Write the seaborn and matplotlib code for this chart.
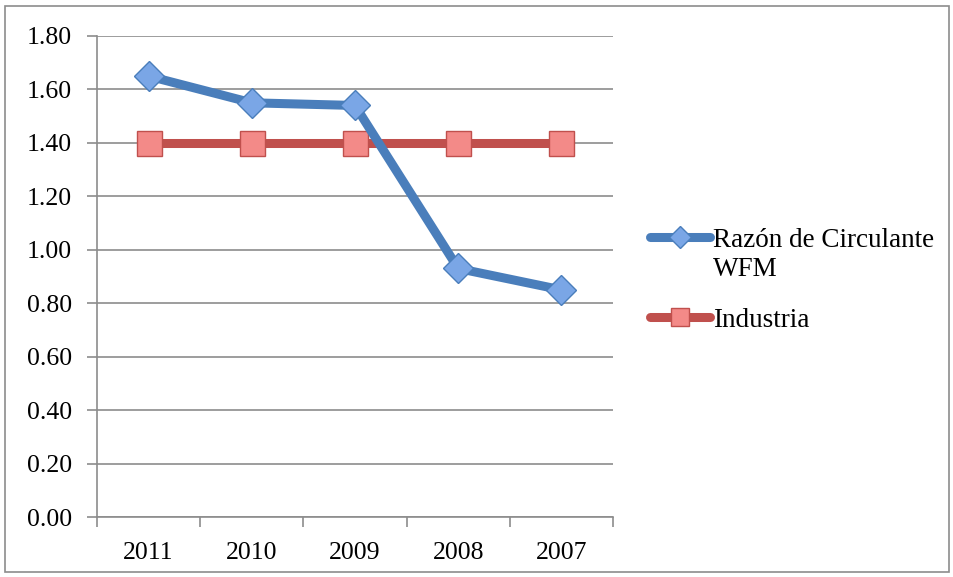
import matplotlib
matplotlib.use("Agg")
import matplotlib.pyplot as plt
import seaborn as sns
import pandas as pd
from matplotlib.patches import Rectangle
from matplotlib.ticker import FixedLocator, FormatStrFormatter

years = ["2011", "2010", "2009", "2008", "2007"]
razon = [1.65, 1.55, 1.54, 0.93, 0.85]
industria = [1.40, 1.40, 1.40, 1.40, 1.40]
series_names = ["Razón de Circulante\nWFM", "Industria"]

sns.set_theme(style="white")
plt.rcParams['font.family'] = ['Liberation Serif', 'DejaVu Serif']

df = pd.DataFrame({
    "year": years * 2,
    "value": razon + industria,
    "serie": [series_names[0]] * 5 + [series_names[1]] * 5,
})

fig = plt.figure(figsize=(9.54, 5.77), dpi=100)
ax = fig.add_axes([97/954, 1-517/577, (613-97)/954, (517-36)/577])

blue, blue_face = "#4a7ebb", "#7aa6e6"
red, red_face = "#c0504d", "#f38a88"

sns.lineplot(data=df[df.serie == series_names[0]], x="year", y="value", ax=ax,
             sort=False, color=blue, linewidth=6.5, marker="D", markersize=15,
             markerfacecolor=blue_face, markeredgecolor=blue, markeredgewidth=1,
             label=series_names[0], zorder=3)
sns.lineplot(data=df[df.serie == series_names[1]], x="year", y="value", ax=ax,
             sort=False, color=red, linewidth=6.5, marker="s", markersize=18,
             markerfacecolor=red_face, markeredgecolor=red, markeredgewidth=1,
             label=series_names[1], zorder=2)

ax.set_xlim(-0.5, 4.5)
ax.set_ylim(0, 1.8)
ax.set_yticks([i * 0.2 for i in range(10)])
ax.yaxis.set_major_formatter(FormatStrFormatter("%.2f"))
ax.xaxis.set_minor_locator(FixedLocator([-0.5, 0.5, 1.5, 2.5, 3.5, 4.5]))
ax.set_xlabel("")
ax.set_ylabel("")
ax.grid(axis="y", color="#8c8c8c", linewidth=1.2)
ax.set_axisbelow(True)
for s in ["top", "right"]:
    ax.spines[s].set_visible(False)
for s in ["left", "bottom"]:
    ax.spines[s].set_color("#8c8c8c")
    ax.spines[s].set_linewidth(1.2)
ax.tick_params(axis="y", which="major", direction="out", length=7, width=1.2,
               color="#8c8c8c", labelsize=18.5, pad=11, left=True)
ax.tick_params(axis="x", which="major", length=0, labelsize=18.5, pad=18)
ax.tick_params(axis="x", which="minor", direction="out", length=7, width=1.2,
               color="#8c8c8c", bottom=True)
for lab in ax.get_xticklabels() + ax.get_yticklabels():
    lab.set_color("black")

handles, labels = ax.get_legend_handles_labels()
ax.get_legend().remove()
leg = fig.legend(handles, labels, loc="upper left", bbox_to_anchor=(650/954, 1-228/577),
                 frameon=False, fontsize=19.5, handlelength=2.2, handletextpad=0.12,
                 labelspacing=0.95, markerscale=0.75, borderpad=0, borderaxespad=0,
                 labelcolor="black")
for col in leg._legend_handle_box.get_children():
    for item in col.get_children():
        item.align = "top"

fig.patches.append(Rectangle((5/954, 5/577), 944/954, 566/577, transform=fig.transFigure,
                             fill=False, edgecolor="#8c8c8c", linewidth=1.2))

fig.savefig("out.png", dpi=100)
